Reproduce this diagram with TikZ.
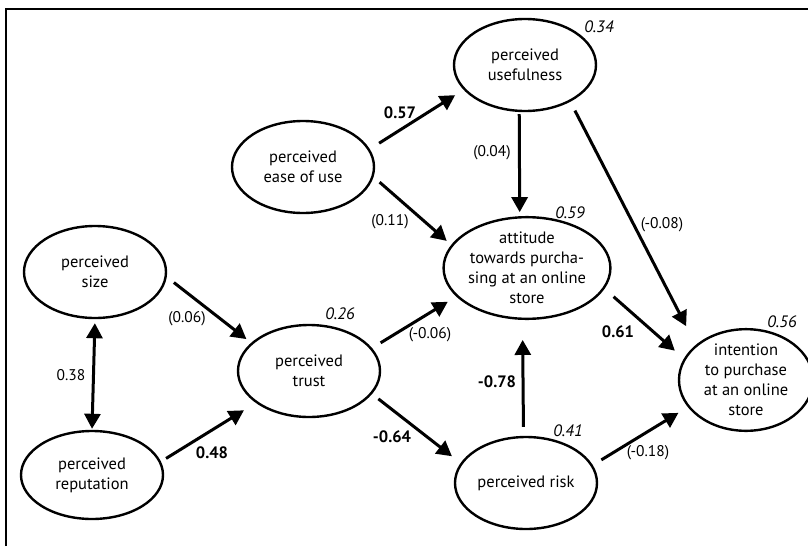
\documentclass[tikz,border=0pt]{standalone}
\usepackage{fontspec}
\setmainfont{PT Sans}
\usetikzlibrary{shapes.geometric,arrows.meta}

\tikzset{
  latent/.style={ellipse, draw, line width=2.4pt, minimum width=142pt,
    minimum height=92pt, inner sep=0pt, align=center,
    font=\fontsize{16.5}{20}\selectfont},
  effect/.style={line width=3pt, -{Triangle[length=15pt,width=16pt]}},
  both/.style={line width=3pt, {Triangle[length=15pt,width=16pt]}-{Triangle[length=15pt,width=16pt]}},
  coef/.style={inner sep=1pt, font=\fontsize{15.5}{17}\selectfont},
  coefb/.style={coef, font=\fontsize{16.5}{18}\selectfont\bfseries},
  rsq/.style={coef, font=\fontsize{16.5}{18}\selectfont\itshape},
  frame/.style={line width=1.6pt}
}

\begin{document}
\begin{tikzpicture}[x=1pt, y=-1pt]
\useasboundingbox (0,0) rectangle (808,546);

% outer frame (top and left edges)
\draw[frame] (6,546) -- (6,9) -- (808,9);

% constructs
\node[latent] (useful) at (525,65)  {perceived\\usefulness};
\node[latent] (ease)   at (303,167) {perceived\\ease of use};
\node[latent] (att)    at (527,268) {attitude\\towards purcha-\\sing at an online\\store};
\node[latent] (size)   at (95,272)  {perceived\\size};
\node[latent, minimum height=88pt] (rep) at (92,475) {perceived\\reputation};
\node[latent] (trust)  at (309,371) {perceived\\trust};
\node[latent] (risk)   at (526,483) {perceived risk};
\node[latent, minimum width=134pt, minimum height=96pt] (intent) at (746,380)
  {intention\\to purchase\\at an online\\store};

% paths
\draw[effect, shorten <=11pt, shorten >=10pt] (ease.15.4)   -- (useful.202.6);
\draw[effect, shorten <=8pt,  shorten >=6pt]  (ease.352)    -- (att.163.3);
\draw[effect, shorten <=2pt,  shorten >=4pt]  (useful.263.8) -- (att.98.7);
\draw[effect, shorten <=10pt, shorten >=21pt] (useful.321.8) -- (intent.145.7);
\draw[both,   shorten <=4pt,  shorten >=1pt]  (size.south)  -- (rep.north);
\draw[effect, shorten <=9pt,  shorten >=6pt]  (size.356.5)  -- (trust.154.6);
\draw[effect, shorten <=6pt,  shorten >=14pt] (rep.11.5)    -- (trust.211.4);
\draw[effect, shorten <=10pt, shorten >=10pt] (trust.20.2)  -- (att.202.4);
\draw[effect, shorten <=8pt,  shorten >=11pt] (trust.340.8) -- (risk.163.9);
\draw[effect, shorten <=9pt,  shorten >=20pt] (risk.93.7)   -- (att.265);
\draw[effect, shorten <=12pt, shorten >=12pt] (att.345.1)   -- (intent.161.6);
\draw[effect, shorten <=10pt, shorten >=11pt] (risk.15.3)   -- (intent.205.3);

% path coefficients
\node[coefb] (c-eu) at (400,113) {0.57};
\node[coef]  (c-ua) at (492,153) {(0.04)};
\node[coef]  (c-ea) at (390,222) {(0.11)};
\node[coef]  (c-ui) at (662,225) {(-0.08)};
\node[coef]  (c-st) at (187,319) {(0.06)};
\node[coef]  (c-sr) at (71,375)  {0.38};
\node[coef]  (c-ta) at (430,335) {(-0.06)};
\node[coefb] (c-ai) at (618,332) {0.61};
\node[coefb] (c-ka) at (497,382) {-0.78};
\node[coefb] (c-rt) at (212,453) {0.48};
\node[coefb] (c-tk) at (392,437) {-0.64};
\node[coef]  (c-ki) at (648,453) {(-0.18)};

% explained variance
\node[rsq] (r-useful) at (599,27)  {0.34};
\node[rsq] (r-att)    at (570,213) {0.59};
\node[rsq] (r-trust)  at (340,314) {0.26};
\node[rsq] (r-intent) at (782,322) {0.56};
\node[rsq] (r-risk)   at (568,431) {0.41};
\end{tikzpicture}
\end{document}
